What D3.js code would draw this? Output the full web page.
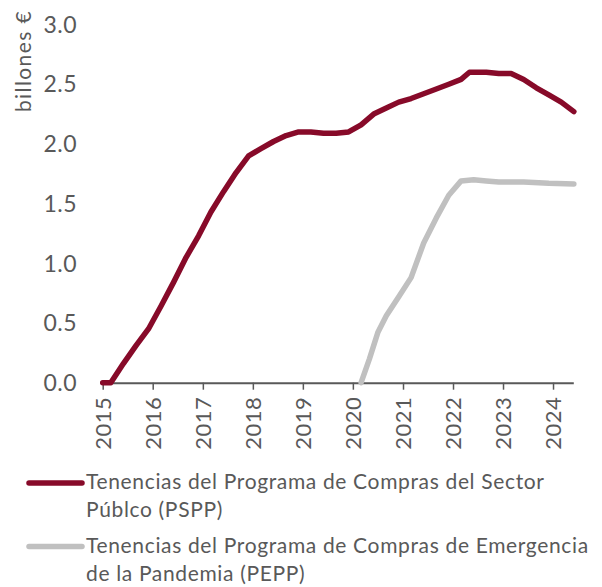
<!DOCTYPE html>
<html>
<head>
<meta charset="utf-8">
<script src="https://cdn.jsdelivr.net/npm/d3@7"></script>
<style>
  body { margin: 0; background: #fff; }
  text { font-family: Lato, "Open Sans", sans-serif; fill: #595959; }
</style>
</head>
<body>
<div id="chart"></div>
<script>
// Tenencias PSPP (billones €)
var psppDates = ["2015-01","2015-03","2015-06","2015-09","2015-12","2016-03","2016-06","2016-09","2016-12",
  "2017-03","2017-06","2017-09","2017-12","2018-03","2018-06","2018-09","2018-12","2019-03","2019-06",
  "2019-09","2019-12","2020-03","2020-06","2020-09","2020-12","2021-03","2021-06","2021-09","2021-12",
  "2022-03","2022-05","2022-09","2022-12","2023-03","2023-06","2023-09","2023-12","2024-03","2024-06"];
var psppValues = [0, 0, 0.16, 0.31, 0.45, 0.64, 0.84, 1.05, 1.23,
  1.43, 1.60, 1.76, 1.90, 1.96, 2.02, 2.07, 2.10, 2.10, 2.09,
  2.09, 2.10, 2.16, 2.25, 2.30, 2.35, 2.38, 2.42, 2.46, 2.50,
  2.54, 2.60, 2.60, 2.59, 2.59, 2.54, 2.47, 2.41, 2.35, 2.27];

// Tenencias PEPP (billones €)
var peppDates = ["2020-03","2020-05","2020-07","2020-09","2020-12","2021-03","2021-06","2021-09","2021-12",
  "2022-03","2022-06","2022-09","2022-12","2023-06","2023-12","2024-06"];
var peppValues = [0, 0.20, 0.42, 0.56, 0.72, 0.88, 1.17, 1.38, 1.57,
  1.69, 1.70, 1.69, 1.68, 1.68, 1.67, 1.665];

var yTicks = [0, 0.5, 1, 1.5, 2, 2.5, 3];
var xYears = [2015, 2016, 2017, 2018, 2019, 2020, 2021, 2022, 2023, 2024];
var legendLabels = [
  ["Tenencias del Programa de Compras del Sector", "Públco (PSPP)"],
  ["Tenencias del Programa de Compras de Emergencia", "de la Pandemia (PEPP)"]
];
var colors = ["#870a29", "#c0c0c0"];

var width = 602, height = 587;
var margin = {top: 24.5, left: 102.7, right: 28.7, bottom: 204.3};

var svg = d3.select("#chart")
  .append("svg")
  .attr("width", width)
  .attr("height", height);

var parse = d3.timeParse("%Y-%m");

var x = d3.scaleTime()
  .domain([new Date(2015, 0, 1), new Date(2024, 4, 28)])
  .range([margin.left, width - margin.right]);

var y = d3.scaleLinear()
  .domain([0, 3])
  .range([height - margin.bottom, margin.top]);

// y tick labels (no axis line)
svg.selectAll(".ylab")
  .data(yTicks)
  .enter()
  .append("text")
  .attr("x", 77)
  .attr("y", function(d) { return y(d); })
  .attr("dy", "0.36em")
  .attr("text-anchor", "end")
  .style("font-size", "23px")
  .style("letter-spacing", "0.5px")
  .text(function(d) { return d3.format(".1f")(d); });

svg.append("text")
  .attr("transform", "translate(31,10) rotate(-90)")
  .attr("text-anchor", "end")
  .style("font-size", "21px")
  .style("letter-spacing", "1.4px")
  .text("billones €");

// x axis
var xAxis = d3.axisBottom(x)
  .tickValues(xYears.map(function(yr) { return new Date(yr, 0, 1); }))
  .tickFormat(d3.timeFormat("%Y"))
  .tickSize(7)
  .tickSizeOuter(0);

var gx = svg.append("g")
  .attr("transform", "translate(0," + y(0) + ")")
  .call(xAxis);

gx.select(".domain").attr("stroke", "#595959").attr("stroke-width", 2);
gx.selectAll(".tick line").attr("stroke", "#595959").attr("stroke-width", 1.5);
gx.selectAll(".tick text")
  .attr("transform", "rotate(-90)")
  .attr("x", -14)
  .attr("y", 0)
  .attr("dy", "0.36em")
  .attr("text-anchor", "end")
  .style("font-size", "22px")
  .style("letter-spacing", "0.5px")
  .style("font-family", "Lato, sans-serif")
  .attr("fill", "#595959");

var line = d3.line()
  .x(function(d) { return x(d.date); })
  .y(function(d) { return y(d.value); });

var series = [
  psppDates.map(function(d, i) { return {date: parse(d), value: psppValues[i]}; }),
  peppDates.map(function(d, i) { return {date: parse(d), value: peppValues[i]}; })
];

svg.selectAll(".series")
  .data([series[1], series[0]])
  .enter()
  .append("path")
  .attr("d", line)
  .attr("fill", "none")
  .attr("stroke", function(d, i) { return i === 0 ? colors[1] : colors[0]; })
  .attr("stroke-width", 5.5)
  .attr("stroke-linecap", "round")
  .attr("stroke-linejoin", "round");

// legend
var legend = svg.selectAll(".legend")
  .data(legendLabels)
  .enter()
  .append("g")
  .attr("transform", function(d, i) { return "translate(0," + (483 + i * 63.5) + ")"; });

legend.append("line")
  .attr("x1", 29).attr("x2", 82)
  .attr("stroke", function(d, i) { return colors[i]; })
  .attr("stroke-width", 5.5)
  .attr("stroke-linecap", "round");

legend.append("text")
  .attr("x", 86)
  .attr("y", 6)
  .style("font-size", "21px")
  .style("letter-spacing", "0.65px")
  .selectAll("tspan")
  .data(function(d) { return d; })
  .enter()
  .append("tspan")
  .attr("x", 86)
  .attr("dy", function(d, i) { return i === 0 ? 0 : 28; })
  .text(function(d) { return d; });
</script>
</body>
</html>
